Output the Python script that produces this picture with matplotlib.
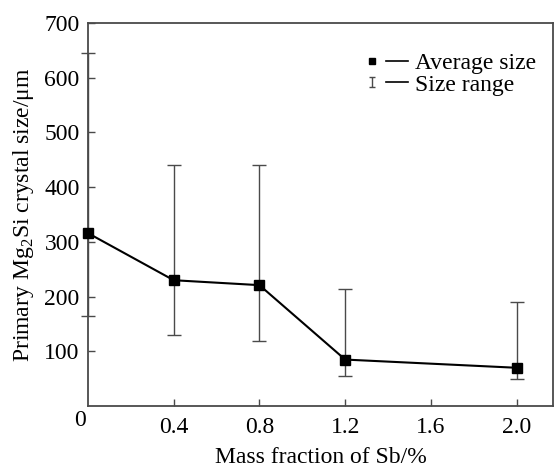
import numpy as np
import matplotlib.pyplot as plt
from matplotlib.lines import Line2D
from matplotlib.path import Path
from matplotlib.legend_handler import HandlerTuple

plt.rcParams['font.family'] = ['Liberation Serif', 'DejaVu Serif']
plt.rcParams['mathtext.fontset'] = 'custom'
plt.rcParams['mathtext.rm'] = 'Liberation Serif'

# Datos
sb = [0.0, 0.4, 0.8, 1.2, 2.0]
tam_medio = [316, 230, 221, 85, 70]
tam_min = [165, 129, 119, 55, 49]
tam_max = [645, 440, 440, 214, 190]

tam_medio = np.array(tam_medio)
err_inf = tam_medio - np.array(tam_min)
err_sup = np.array(tam_max) - tam_medio

gris = '#4a4a4a'
fs = 17

fig = plt.figure(figsize=(5.55, 4.70), dpi=100)
ax = fig.add_axes([0.1586, 0.136, 0.8378, 0.815])

ax.errorbar(sb, tam_medio, yerr=[err_inf, err_sup], fmt='none',
            ecolor=gris, elinewidth=1.0, capsize=5, capthick=1.0,
            clip_on=False, zorder=2)
ax.plot(sb, tam_medio, color='black', linewidth=1.5, marker='s',
        markersize=6.5, clip_on=False, zorder=3)

ax.set_xlim(0, 2.17)
ax.set_ylim(0, 700)
ax.set_xticks([0.4, 0.8, 1.2, 1.6, 2.0])
ax.set_xticklabels(['0.4', '0.8', '1.2', '1.6', '2.0'])
ax.set_yticks([100, 200, 300, 400, 500, 600, 700])
ax.tick_params(direction='in', length=5, width=1.0, color=gris,
               labelsize=fs, pad=6)
ax.tick_params(axis='x', pad=8)
for s in ax.spines.values():
    s.set_color(gris)
    s.set_linewidth(1.3)
ax.text(-0.005, -0.01, '0', transform=ax.transAxes, ha='right', va='top',
        fontsize=fs)

ax.set_xlabel('Mass fraction of Sb/%', fontsize=fs, labelpad=6.5)
ax.set_ylabel(r'Primary Mg$_2$Si crystal size/$\mathrm{\mu}$m', fontsize=fs,
              labelpad=6)

# Leyenda
barra = Path([(-0.5, 1), (0.5, 1), (0, 1), (0, -1), (-0.5, -1), (0.5, -1)],
             [Path.MOVETO, Path.LINETO, Path.MOVETO, Path.LINETO,
              Path.MOVETO, Path.LINETO])
h_cuad = Line2D([], [], linestyle='none', marker='s', color='black',
                markersize=5)
h_barra = Line2D([], [], linestyle='none', marker=barra, color=gris,
                 markersize=7.5, markeredgewidth=1.0)
h_linea = Line2D([], [], color='black', linewidth=1.2)
ax.legend([(h_cuad, h_linea), (h_barra, h_linea)],
          ['Average size', 'Size range'],
          handler_map={tuple: HandlerTuple(ndivide=None, pad=0.1)},
          loc='upper right', bbox_to_anchor=(1.01, 0.978), frameon=False,
          fontsize=fs, handlelength=2.0, handletextpad=0.3,
          labelspacing=0.0)

fig.savefig('out.png', dpi=100)
